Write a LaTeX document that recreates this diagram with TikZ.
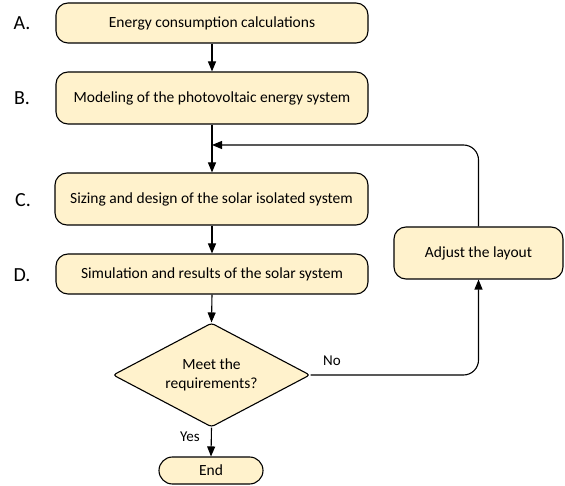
\documentclass[tikz,border=0pt]{standalone}
\usepackage{fontspec}
\setmainfont{Carlito}
\usetikzlibrary{shapes.geometric,arrows.meta}
\definecolor{boxfill}{HTML}{FFF2CC}
\tikzset{
  x=1pt,y=1pt,
  proc/.style={draw=black, line width=1.1pt, fill=boxfill, rounded corners=12pt, minimum width=312pt, inner sep=0pt, font=\fontsize{15.5}{18}\selectfont, align=center},
  letter/.style={font=\fontsize{20}{22}\selectfont, inner sep=0pt},
  conn/.style={line width=1.1pt, -{Triangle[length=10pt,width=8pt]}},
  lbl/.style={font=\fontsize{15}{17}\selectfont, inner sep=0pt}
}
\begin{document}
\begin{tikzpicture}
\useasboundingbox (0,0) rectangle (565,-486);
\node[proc, minimum height=40pt] (A) at (212,-23) {Energy consumption calculations};
\node[proc, minimum height=52pt] (B) at (212,-98) {Modeling of the photovoltaic energy system};
\node[proc, minimum height=52pt, minimum width=313pt] (C) at (211.5,-199) {Sizing and design of the solar isolated system};
\node[proc, minimum height=40pt] (D) at (212,-274) {Simulation and results of the solar system};
\node[proc, minimum height=52pt, minimum width=169pt] (adj) at (478.5,-253) {Adjust the layout};
\node[draw=black, line width=1.1pt, fill=boxfill, shape=diamond, aspect=1.9, minimum width=197pt, minimum height=104pt, inner sep=0pt, rounded corners=3pt, font=\fontsize{15.5}{19}\selectfont, align=center] (dia) at (211.5,-375) {Meet the\\requirements?};
\node[proc, minimum height=27pt, minimum width=104pt, rounded corners=13.5pt] (end) at (211,-470.5) {End};

\node[letter] (la) at (22,-23) {A.};
\node[letter] (lb) at (22,-98) {B.};
\node[letter] (lc) at (23,-200) {C.};
\node[letter] (ld) at (22,-275) {D.};

\coordinate (merge) at (212,-145);

\draw[conn] (A) -- (B);
\draw[conn] (B.south) -- (C.north -| B.south);
\draw[conn, rounded corners=15pt] (adj.north) |- (merge);
\draw[conn] (C.south -| D.north) -- (D.north);
\draw[conn] (D.south) -- (dia.north);
\draw[conn] (dia.south) -- (end.north);
\draw[conn, rounded corners=15pt] (dia.east) -| (adj.south);
\node[lbl] (yes) at (190,-437) {Yes};
\node[lbl] (no) at (332,-361) {No};
\end{tikzpicture}
\end{document}
